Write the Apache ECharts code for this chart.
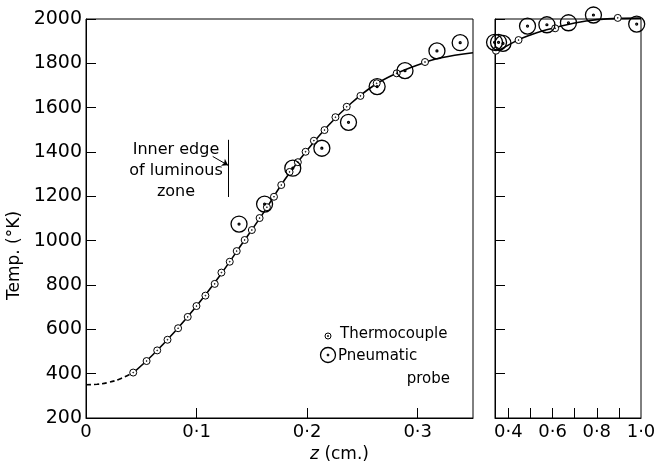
<!DOCTYPE html>
<html>
<head>
<meta charset="utf-8">
<script src="https://cdn.jsdelivr.net/npm/echarts@6/dist/echarts.min.js"></script>
<style>
  html, body { margin: 0; padding: 0; background: #fff; }
  #chart { width: 654px; height: 469px; }
</style>
</head>
<body>
<div id="chart"></div>
<script>
// smooth curve through the measurements (dashed = extrapolated part)
const curveDashed = [[0, 350], [0.01, 352], [0.02, 360], [0.03, 375], [0.043, 405]]
const curveLeft = [[0.043, 405], [0.06, 483], [0.08, 588], [0.10, 705], [0.12, 835], [0.14, 978],
  [0.16, 1122], [0.18, 1277], [0.20, 1408], [0.22, 1524], [0.24, 1621], [0.26, 1699],
  [0.28, 1753], [0.30, 1793], [0.32, 1824], [0.35, 1848]]
const curveRight = [[0.34, 1848], [0.40, 1882], [0.45, 1908], [0.50, 1928], [0.55, 1945],
  [0.62, 1963], [0.70, 1982], [0.80, 1997], [0.90, 2003], [1.0, 2004]]

// thermocouple readings
const thermoLeft = [[0.0427, 405], [0.0548, 457], [0.0644, 505], [0.0737, 553], [0.0833, 605],
  [0.092, 656], [0.0999, 705], [0.108, 752], [0.1164, 805], [0.1225, 856], [0.130, 905],
  [0.1363, 953], [0.1435, 1003], [0.150, 1048], [0.157, 1102], [0.1636, 1151], [0.170, 1198],
  [0.1766, 1251], [0.1841, 1310], [0.1916, 1354], [0.1986, 1401], [0.2061, 1451],
  [0.2157, 1499], [0.2256, 1557], [0.2358, 1604], [0.2482, 1653], [0.2629, 1710],
  [0.281, 1755], [0.3066, 1806]]
const thermoRight = [[0.3445, 1857], [0.4465, 1905], [0.612, 1958], [0.895, 2005]]

// pneumatic probe readings
const probeLeft = [[0.1384, 1075], [0.1615, 1165], [0.187, 1327], [0.2133, 1417], [0.2374, 1534],
  [0.2633, 1695], [0.2885, 1767], [0.3174, 1856], [0.3384, 1893]]
const probeRight = [[0.338, 1895], [0.356, 1895], [0.376, 1890], [0.487, 1968], [0.5746, 1974],
  [0.672, 1983], [0.785, 2018], [0.9805, 1977]]

const xTicksLeft = [0, 0.1, 0.2, 0.3]
const xTicksRight = [0.4, 0.5, 0.6, 0.7, 0.8, 0.9]
const xLabelsRight = [0.4, 0.6, 0.8, 1.0]

const FONT = 'DejaVu Sans'
const ringDot = 'path://M0,-10A10,10 0 1,1 0,10A10,10 0 1,1 0,-10Z M0,-1.2A1.2,1.2 0 1,1 0,1.2A1.2,1.2 0 1,1 0,-1.2Z'
const fmtZ = v => (v === 0 ? '0' : v.toFixed(1).replace('.', '\u00b7'))

const chart = echarts.init(document.getElementById('chart'))

const axisLine = { show: true, lineStyle: { color: '#000', width: 1 } }

const option = {
  animation: false,
  backgroundColor: '#fff',
  grid: [
    { left: 86, right: 181, top: 19, bottom: 51, containLabel: false, outerBoundsMode: 'none', show: true, borderColor: '#000', borderWidth: 1 },
    { left: 495, right: 13, top: 19, bottom: 51, containLabel: false, outerBoundsMode: 'none', show: true, borderColor: '#000', borderWidth: 1 }
  ],
  xAxis: [
    {
      type: 'value', gridIndex: 0, min: 0, max: 0.35,
      name: '{i|z} (cm.)', nameLocation: 'middle', nameGap: 25,
      nameTextStyle: {
        color: '#000', fontFamily: FONT, fontSize: 17, padding: [0, 0, 0, 120],
        rich: { i: { fontStyle: 'italic', fontFamily: FONT, fontSize: 17, color: '#000' } }
      },
      axisLine: axisLine,
      axisTick: { inside: true, length: 10, customValues: xTicksLeft, lineStyle: { color: '#000' } },
      axisLabel: { customValues: xTicksLeft, formatter: fmtZ, color: '#000', fontFamily: FONT, fontSize: 18, margin: 5 },
      splitLine: { show: false }
    },
    {
      type: 'value', gridIndex: 1, min: 0.34, max: 1.0,
      axisLine: axisLine,
      axisTick: { inside: true, length: 10, customValues: xTicksRight, lineStyle: { color: '#000' } },
      axisLabel: { customValues: xLabelsRight, formatter: fmtZ, color: '#000', fontFamily: FONT, fontSize: 18, margin: 5 },
      splitLine: { show: false }
    }
  ],
  yAxis: [
    {
      type: 'value', gridIndex: 0, min: 200, max: 2000, interval: 200,
      name: 'Temp. (\u00b0K)', nameLocation: 'middle', nameGap: 62, nameRotate: 90,
      nameTextStyle: { color: '#000', fontFamily: FONT, fontSize: 17, padding: [0, 74, 0, 0] },
      axisLine: axisLine,
      axisTick: { inside: true, length: 10, lineStyle: { color: '#000' } },
      axisLabel: { formatter: v => String(v), color: '#000', fontFamily: FONT, fontSize: 19, margin: 4 },
      splitLine: { show: false }
    },
    {
      type: 'value', gridIndex: 1, min: 200, max: 2000, interval: 200,
      axisLine: axisLine,
      axisTick: { inside: true, length: 10, lineStyle: { color: '#000' } },
      axisLabel: { show: false },
      splitLine: { show: false }
    }
  ],
  series: [
    {
      type: 'line', xAxisIndex: 0, yAxisIndex: 0, data: curveDashed, smooth: 0.4, showSymbol: false,
      lineStyle: { color: '#000', width: 1.6, type: [5, 3] }, z: 2
    },
    {
      type: 'line', xAxisIndex: 0, yAxisIndex: 0, data: curveLeft, smooth: 0.4, showSymbol: false,
      lineStyle: { color: '#000', width: 1.6 }, z: 2,
      markLine: {
        silent: true, symbol: ['none', 'none'], label: { show: false },
        lineStyle: { color: '#000', width: 1, type: 'solid' },
        data: [
          [{ coord: [0.129, 1197] }, { coord: [0.129, 1455] }],
          [{ coord: [0.1146, 1380], symbol: 'none' }, { coord: [0.1285, 1340], symbol: 'arrow', symbolSize: 6 }]
        ]
      }
    },
    {
      type: 'line', xAxisIndex: 1, yAxisIndex: 1, data: curveRight, smooth: 0.4, showSymbol: false,
      clip: false, lineStyle: { color: '#000', width: 1.6 }, z: 2
    },
    {
      name: 'Thermocouple', type: 'scatter', xAxisIndex: 0, yAxisIndex: 0, data: thermoLeft,
      symbol: ringDot, symbolSize: 7, clip: false,
      itemStyle: { color: '#fff', borderColor: '#000', borderWidth: 1, opacity: 1 }, z: 3
    },
    {
      name: 'Thermocouple', type: 'scatter', xAxisIndex: 1, yAxisIndex: 1, data: thermoRight,
      symbol: ringDot, symbolSize: 7, clip: false,
      itemStyle: { color: '#fff', borderColor: '#000', borderWidth: 1, opacity: 1 }, z: 3
    },
    {
      name: 'Pneumatic probe', type: 'scatter', xAxisIndex: 0, yAxisIndex: 0, data: probeLeft,
      symbol: ringDot, symbolSize: 16, clip: false,
      itemStyle: { color: 'rgba(0,0,0,0)', borderColor: '#000', borderWidth: 1.3, opacity: 1 }, z: 4
    },
    {
      name: 'Pneumatic probe', type: 'scatter', xAxisIndex: 1, yAxisIndex: 1, data: probeRight,
      symbol: ringDot, symbolSize: 16, clip: false,
      itemStyle: { color: 'rgba(0,0,0,0)', borderColor: '#000', borderWidth: 1.3, opacity: 1 }, z: 4
    }
  ],
  graphic: [
    // annotation
    {
      type: 'text', x: 176, y: 139, z: 10,
      style: { text: 'Inner edge\nof luminous\nzone', fill: '#000', font: '16px "DejaVu Sans"', lineHeight: 21, align: 'center' }
    },
    // legend
    { type: 'circle', shape: { cx: 328, cy: 336, r: 3 }, style: { fill: '#fff', stroke: '#000', lineWidth: 1 }, z: 10 },
    { type: 'circle', shape: { cx: 328, cy: 336, r: 0.6 }, style: { fill: '#000', stroke: '#000', lineWidth: 0.8 }, z: 10 },
    { type: 'text', x: 340, y: 334, z: 10, style: { text: 'Thermocouple', fill: '#000', font: '15px "DejaVu Sans"', verticalAlign: 'middle' } },
    { type: 'circle', shape: { cx: 328, cy: 355, r: 7.5 }, style: { fill: 'none', stroke: '#000', lineWidth: 1.3 }, z: 10 },
    { type: 'circle', shape: { cx: 328, cy: 355, r: 1 }, style: { fill: '#000', stroke: '#000', lineWidth: 0.8 }, z: 10 },
    { type: 'text', x: 338, y: 356, z: 10, style: { text: 'Pneumatic', fill: '#000', font: '15px "DejaVu Sans"', verticalAlign: 'middle' } },
    { type: 'text', x: 450, y: 379, z: 10, style: { text: 'probe', fill: '#000', font: '15px "DejaVu Sans"', verticalAlign: 'middle', align: 'right' } }
  ]
}

chart.setOption(option)
</script>
</body>
</html>
